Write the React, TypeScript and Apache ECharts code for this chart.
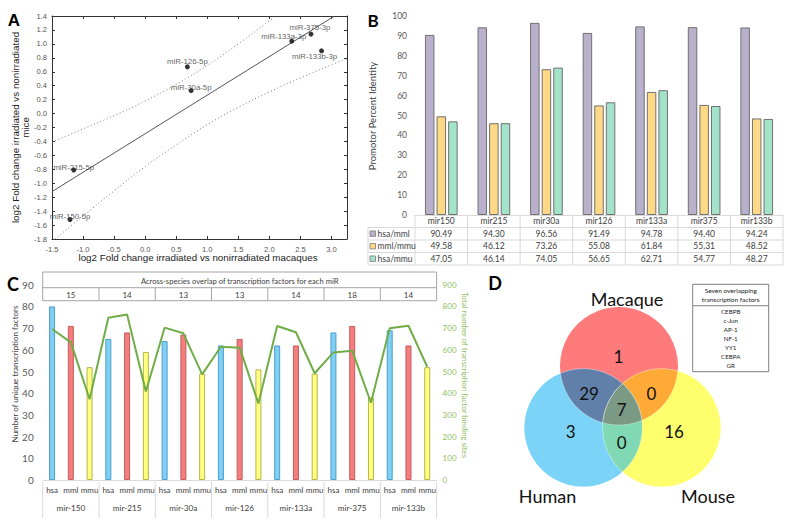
import { useEffect, useRef } from 'react';
import * as echarts from 'echarts';

// ---------- Panel A data ----------
const aNames = ['miR-375-3p', 'miR-133a-3p', 'miR-133b-3p', 'miR-126-5p', 'miR-30a-5p', 'miR-215-5p', 'miR-150-5p'];
const aMacaque = [2.67, 2.36, 2.84, 0.68, 0.74, -1.15, -1.21];
const aMice = [1.14, 1.04, 0.9, 0.67, 0.33, -0.81, -1.52];
const aFitX = [-1.5, 3.05];
const aFitY = [-1.12, 1.4];
const aUpperX = [-1.5, -1.0, -0.5, 0, 0.5, 1.0, 1.5, 2.0, 2.1];
const aUpperY = [-0.41, -0.22, -0.03, 0.18, 0.42, 0.69, 1.0, 1.33, 1.4];
const aLowerX = [-1.45, -1.0, -0.5, 0, 0.5, 1.0, 1.5, 2.0, 2.5, 3.0, 3.25];
const aLowerY = [-1.8, -1.47, -1.11, -0.76, -0.45, -0.16, 0.09, 0.31, 0.51, 0.7, 0.79];

// ---------- Panel B data ----------
const bCategories = ['mir150', 'mir215', 'mir30a', 'mir126', 'mir133a', 'mir375', 'mir133b'];
const bSeriesNames = ['hsa/mml', 'mml/mmu', 'hsa/mmu'];
const bHsaMml = [90.49, 94.3, 96.56, 91.49, 94.78, 94.4, 94.24];
const bMmlMmu = [49.58, 46.12, 73.26, 55.08, 61.84, 55.31, 48.52];
const bHsaMmu = [47.05, 46.14, 74.05, 56.65, 62.71, 54.77, 48.27];

// ---------- Panel C data ----------
const cGroups = ['mir-150', 'mir-215', 'mir-30a', 'mir-126', 'mir-133a', 'mir-375', 'mir-133b'];
const cSpecies = ['hsa', 'mml', 'mmu'];
const cOverlap = [15, 14, 13, 13, 14, 18, 14];
const cHsa = [80, 65, 64, 62, 62, 68, 69];
const cMml = [71, 68, 67, 65, 62, 71, 62];
const cMmu = [52, 59, 49, 51, 49, 38, 52];
const cSitesHsa = [696, 748, 702, 614, 710, 588, 699];
const cSitesMml = [634, 763, 676, 610, 681, 596, 711];
const cSitesMmu = [372, 408, 487, 353, 492, 356, 522];

// ---------- Panel D data ----------
const dSets = ['Macaque', 'Human', 'Mouse'];
const dOnlyMacaque = 1, dOnlyHuman = 3, dOnlyMouse = 16;
const dMacHum = 29, dMacMou = 0, dHumMou = 0, dAll = 7;
const dFactors = ['CEBPB', 'c-Jun', 'AP-1', 'NF-1', 'YY1', 'CEBPA', 'GR'];

// ---------- styling / layout ----------
const FA = '"Liberation Sans", Arial, sans-serif';
const FC = 'Lato, "Open Sans", sans-serif';
const aLabelOffsets = [[-1, -7], [-8, -5], [-7, 6], [0, -5], [0, -3], [0, -3], [0, -3]];
const bColors = ['#B9B1CC', '#FFD985', '#A2E3CA'];
const cColors = ['#7FD0F2', '#F47E7E', '#FFFF80'];
const cBorders = ['#4A9FCC', '#C45A5A', '#B5B54C'];
const GREEN = '#70AD47';
const GREEN_T = '#8FBF5F';

type Circ = { x: number; y: number; r: number };
function region(cs: Circ[]): number[][] {
  const pts: number[][] = [];
  const N = 720;
  cs.forEach((c, i) => {
    for (let k = 0; k < N; k++) {
      const t = (k / N) * Math.PI * 2;
      const px = c.x + c.r * Math.cos(t);
      const py = c.y + c.r * Math.sin(t);
      if (cs.every((o, j) => j === i || (px - o.x) ** 2 + (py - o.y) ** 2 <= o.r * o.r + 0.01)) pts.push([px, py]);
    }
  });
  const mx = pts.reduce((s, p) => s + p[0], 0) / pts.length;
  const my = pts.reduce((s, p) => s + p[1], 0) / pts.length;
  pts.sort((a, b) => Math.atan2(a[1] - my, a[0] - mx) - Math.atan2(b[1] - my, b[0] - mx));
  return pts;
}

function txt(text: string, x: number, y: number, size: number, opts: any = {}) {
  return {
    type: 'text',
    x,
    y,
    rotation: opts.rotation || 0,
    silent: true,
    z: 10,
    style: {
      text,
      x: 0,
      y: 0,
      fill: opts.fill || '#404040',
      fontSize: size,
      fontFamily: opts.font || FC,
      fontWeight: opts.bold ? 'bold' : 'normal',
      align: opts.align || 'center',
      textAlign: opts.align || 'center',
      verticalAlign: 'middle',
      textVerticalAlign: 'middle',
    },
  };
}
function line(x1: number, y1: number, x2: number, y2: number, stroke = '#D9D9D9', w = 1) {
  return { type: 'line', silent: true, z: 5, shape: { x1, y1, x2, y2 }, style: { stroke, lineWidth: w } };
}

export default function App() {
  const ref = useRef<HTMLDivElement>(null);
  useEffect(() => {
    if (!ref.current) return;
    const chart = echarts.init(ref.current, undefined, { renderer: 'svg' });

    // layout
    const A = { l: 52, t: 16, w: 295, h: 223 };
    const B = { l: 415, t: 16, w: 368, h: 199 };
    const C = { l: 42.7, t: 284.7, w: 393.9, h: 195.3 };

    const g: any[] = [];
    // Panel letters
    g.push(txt('A', 14, 20, 17, { bold: true, font: FA, fill: '#000' }));
    g.push(txt('B', 373, 20, 17, { bold: true, fill: '#000' }));
    g.push(txt('C', 13, 284, 18, { bold: true, fill: '#000' }));
    g.push(txt('D', 495, 283, 18, { bold: true, fill: '#000' }));

    // Panel A titles
    g.push(txt('log2 Fold change irradiated vs nonirradiated', 15, 127.5, 9.8, { rotation: Math.PI / 2, font: FA, fill: '#222' }));
    g.push(txt('mice', 25.5, 127.5, 9.8, { rotation: Math.PI / 2, font: FA, fill: '#222' }));
    g.push(txt('log2 Fold change irradiated vs nonirradiated macaques', 198, 257.5, 9.8, { font: FA, fill: '#222' }));

    // Panel B title
    g.push(txt('Promotor Percent Identity', 372, 116, 9.5, { rotation: Math.PI / 2 }));

    // Panel B table
    const colW = B.w / bCategories.length;
    const tb = B.t + B.h;
    const rh = 12.5;
    for (let r = 1; r <= 4; r++) g.push(line(368, tb + r * rh, B.l + B.w, tb + r * rh));
    for (let c = 0; c <= bCategories.length; c++) g.push(line(B.l + c * colW, tb, B.l + c * colW, tb + 4 * rh));
    g.push(line(368, tb + rh, 368, tb + 4 * rh));
    bCategories.forEach((cat, c) => g.push(txt(cat, B.l + (c + 0.5) * colW, tb + rh / 2, 8.5)));
    const bRows = [bHsaMml, bMmlMmu, bHsaMmu];
    bRows.forEach((row, r) => {
      const cy = tb + (r + 1.5) * rh;
      g.push({ type: 'rect', silent: true, z: 6, shape: { x: 370, y: cy - 2.8, width: 5.5, height: 5.5 }, style: { fill: bColors[r], stroke: '#7F7F7F', lineWidth: 0.8 } });
      g.push(txt(bSeriesNames[r], 377.5, cy, 8.5, { align: 'left' }));
      row.forEach((v, c) => g.push(txt(v.toFixed(2), B.l + (c + 0.5) * colW, cy, 8.5)));
    });

    // Panel C top table
    const gw = C.w / cGroups.length;
    g.push({ type: 'rect', silent: true, z: 5, shape: { x: C.l, y: 272, width: C.w, height: 28.7 }, style: { fill: '#fff', stroke: '#A6A6A6', lineWidth: 1 } });
    g.push(line(C.l, 287.7, C.l + C.w, 287.7, '#A6A6A6'));
    for (let i = 1; i < cGroups.length; i++) g.push(line(C.l + i * gw, 287.7, C.l + i * gw, 300.7, '#A6A6A6'));
    g.push(txt('Across-species overlap of transcription factors for each miR', C.l + C.w / 2, 280.5, 7.6));
    cOverlap.forEach((v, i) => g.push(txt(String(v), C.l + (i + 0.5) * gw, 294.5, 8)));
    // Panel C bottom multi-level axis
    for (let i = 0; i <= cGroups.length; i++) g.push(line(C.l + i * gw, C.t + C.h + 2, C.l + i * gw, 518, '#D9D9D9'));
    cGroups.forEach((grp, i) => g.push(txt(grp, C.l + (i + 0.5) * gw, 508, 8.2)));
    // Panel C axis titles
    g.push(txt('Number of unique transcription factors', 15, 374, 8, { rotation: Math.PI / 2 }));
    g.push(txt('Total number of transcription factor binding sites', 465, 375, 7.8, { rotation: -Math.PI / 2, fill: GREEN_T }));

    // Panel D venn
    const R = 59;
    const cm: Circ = { x: 619, y: 366, r: R };
    const ch: Circ = { x: 583.3, y: 427.7, r: R };
    const cu: Circ = { x: 661.7, y: 427.7, r: R };
    g.push({ type: 'circle', silent: true, z: 1, shape: { cx: cm.x, cy: cm.y, r: R }, style: { fill: '#FD7B7B' } });
    g.push({ type: 'circle', silent: true, z: 1, shape: { cx: ch.x, cy: ch.y, r: R }, style: { fill: '#7BD4F7' } });
    g.push({ type: 'circle', silent: true, z: 1, shape: { cx: cu.x, cy: cu.y, r: R }, style: { fill: '#FFFF6E' } });
    g.push({ type: 'polygon', silent: true, z: 2, shape: { points: region([cm, ch]) }, style: { fill: '#6180A9', stroke: 'rgba(255,255,255,0.45)', lineWidth: 0.8 } });
    g.push({ type: 'polygon', silent: true, z: 2, shape: { points: region([cm, cu]) }, style: { fill: '#FFA937', stroke: 'rgba(255,255,255,0.45)', lineWidth: 0.8 } });
    g.push({ type: 'polygon', silent: true, z: 2, shape: { points: region([ch, cu]) }, style: { fill: '#80D9B4', stroke: 'rgba(255,255,255,0.45)', lineWidth: 0.8 } });
    g.push({ type: 'polygon', silent: true, z: 3, shape: { points: region([cm, ch, cu]) }, style: { fill: '#7B9A85', stroke: 'rgba(255,255,255,0.45)', lineWidth: 0.8 } });
    const vf = { fill: '#111' };
    g.push(txt(dSets[0], 627, 298.5, 18, vf));
    g.push(txt(dSets[1], 547.5, 495.5, 18, vf));
    g.push(txt(dSets[2], 708, 495.5, 18, vf));
    g.push(txt(String(dOnlyMacaque), 618.5, 356, 17, vf));
    g.push(txt(String(dMacHum), 589, 393, 17, vf));
    g.push(txt(String(dMacMou), 651.5, 393, 17, vf));
    g.push(txt(String(dAll), 621.7, 409, 17, vf));
    g.push(txt(String(dOnlyHuman), 570.7, 431.5, 17, vf));
    g.push(txt(String(dOnlyMouse), 674, 431.5, 17, vf));
    g.push(txt(String(dHumMou), 621.7, 442, 17, vf));
    // D box
    g.push({ type: 'rect', silent: true, z: 5, shape: { x: 692.7, y: 284.3, width: 76, height: 87.4 }, style: { fill: '#fff', stroke: '#7F7F7F', lineWidth: 1 } });
    g.push(line(692.7, 305.7, 768.7, 305.7, '#7F7F7F'));
    g.push(txt('Seven overlapping', 730.7, 290.8, 6.5, { fill: '#222' }));
    g.push(txt('transcription factors', 730.7, 299.4, 6.5, { fill: '#222' }));
    dFactors.forEach((f, i) => g.push(txt(f, 730.7, 311.8 + i * 8.9, 6.2, { fill: '#222' })));

    // C categories flattened
    const cCats: string[] = [];
    const cBarData: any[] = [];
    const cLine: number[] = [];
    const cVals = [cHsa, cMml, cMmu];
    const cSites = [cSitesHsa, cSitesMml, cSitesMmu];
    cGroups.forEach((_, gi) => {
      cSpecies.forEach((sp, si) => {
        cCats.push(sp);
        cBarData.push({ value: cVals[si][gi], itemStyle: { color: cColors[si], borderColor: cBorders[si], borderWidth: 1 } });
        cLine.push(cSites[si][gi]);
      });
    });

    const aAxisCommon = {
      type: 'value',
      gridIndex: 0,
      axisLine: { show: true, onZero: false, lineStyle: { color: '#333', width: 1 } },
      axisTick: { show: true, inside: true, length: 3, lineStyle: { color: '#333' } },
      splitLine: { show: false },
    };

    const option: any = {
      animation: false,
      backgroundColor: '#fff',
      grid: [
        { left: A.l, top: A.t, width: A.w, height: A.h },
        { left: B.l, top: B.t, width: B.w, height: B.h },
        { left: C.l, top: C.t, width: C.w, height: C.h },
      ],
      xAxis: [
        {
          ...aAxisCommon,
          min: -1.5,
          max: 3.25,
          interval: 0.5,
          position: 'bottom',
          axisLabel: { fontSize: 7.6, color: '#555', fontFamily: FA, margin: 6, showMaxLabel: false, formatter: (v: number) => v.toFixed(1) },
        },
        { ...aAxisCommon, min: -1.5, max: 3.25, interval: 0.5, position: 'top', axisLabel: { show: false } },
        {
          type: 'category',
          gridIndex: 1,
          data: bCategories,
          axisLine: { show: true, lineStyle: { color: '#D9D9D9' } },
          axisTick: { show: false },
          axisLabel: { show: false },
        },
        {
          type: 'category',
          gridIndex: 2,
          data: cCats,
          axisLine: { show: true, lineStyle: { color: '#D9D9D9' } },
          axisTick: { show: false },
          axisLabel: { interval: 0, fontSize: 8, color: '#404040', fontFamily: FC, margin: 6, hideOverlap: false },
        },
      ],
      yAxis: [
        {
          ...aAxisCommon,
          min: -1.8,
          max: 1.4,
          interval: 0.2,
          position: 'left',
          axisLabel: { fontSize: 7.6, color: '#555', fontFamily: FA, margin: 5, formatter: (v: number) => v.toFixed(1) },
        },
        { ...aAxisCommon, min: -1.8, max: 1.4, interval: 0.2, position: 'right', axisLabel: { show: false } },
        {
          type: 'value',
          gridIndex: 1,
          min: 0,
          max: 100,
          interval: 10,
          axisLine: { show: false },
          axisTick: { show: false },
          splitLine: { show: false },
          axisLabel: { fontSize: 8.5, color: '#595959', fontFamily: FC, margin: 8 },
        },
        {
          type: 'value',
          gridIndex: 2,
          min: 0,
          max: 90,
          interval: 10,
          axisLine: { show: false },
          axisTick: { show: false },
          splitLine: { show: false },
          axisLabel: { fontSize: 10, color: '#595959', fontFamily: FC, margin: 9 },
        },
        {
          type: 'value',
          gridIndex: 2,
          position: 'right',
          min: 0,
          max: 900,
          interval: 100,
          axisLine: { show: false },
          axisTick: { show: false },
          splitLine: { show: false },
          axisLabel: { fontSize: 8, color: GREEN_T, fontFamily: FC, margin: 6 },
        },
      ],
      series: [
        {
          type: 'line',
          xAxisIndex: 0,
          yAxisIndex: 0,
          data: aFitX.map((x, i) => [x, aFitY[i]]),
          symbol: 'none',
          lineStyle: { color: '#555', width: 1 },
          silent: true,
        },
        {
          type: 'line',
          xAxisIndex: 0,
          yAxisIndex: 0,
          data: aUpperX.map((x, i) => [x, aUpperY[i]]),
          symbol: 'none',
          smooth: true,
          lineStyle: { color: '#777', width: 1, type: [1, 2.5] },
          silent: true,
        },
        {
          type: 'line',
          xAxisIndex: 0,
          yAxisIndex: 0,
          data: aLowerX.map((x, i) => [x, aLowerY[i]]),
          symbol: 'none',
          smooth: true,
          lineStyle: { color: '#777', width: 1, type: [1, 2.5] },
          silent: true,
        },
        {
          type: 'scatter',
          xAxisIndex: 0,
          yAxisIndex: 0,
          symbolSize: 5,
          itemStyle: { color: '#000' },
          z: 5,
          data: aMacaque.map((x, i) => ({
            name: aNames[i],
            value: [x, aMice[i]],
            label: { offset: aLabelOffsets[i] },
          })),
          label: {
            show: true,
            position: 'inside',
            formatter: '{b}',
            fontSize: 7.8,
            fontFamily: FA,
            color: '#333',
            textBorderWidth: 0,
            textBorderColor: 'transparent',
          },
        },
        ...[bHsaMml, bMmlMmu, bHsaMmu].map((d, i) => ({
          type: 'bar',
          name: bSeriesNames[i],
          xAxisIndex: 2,
          yAxisIndex: 2,
          data: d,
          barWidth: 9.5,
          barGap: '22%',
          itemStyle: { color: bColors[i], borderColor: '#707070', borderWidth: 1 },
        })),
        {
          type: 'bar',
          xAxisIndex: 3,
          yAxisIndex: 3,
          data: cBarData,
          barWidth: 6,
        },
        {
          type: 'line',
          xAxisIndex: 3,
          yAxisIndex: 4,
          data: cLine,
          symbol: 'none',
          lineStyle: { color: GREEN, width: 2 },
          z: 4,
        },
      ],
      graphic: g,
    };
    chart.setOption(option);
    return () => chart.dispose();
  }, []);
  return <div ref={ref} style={{ position: 'fixed', left: 0, top: 0, width: 800, height: 525, background: '#fff' }} />;
}
